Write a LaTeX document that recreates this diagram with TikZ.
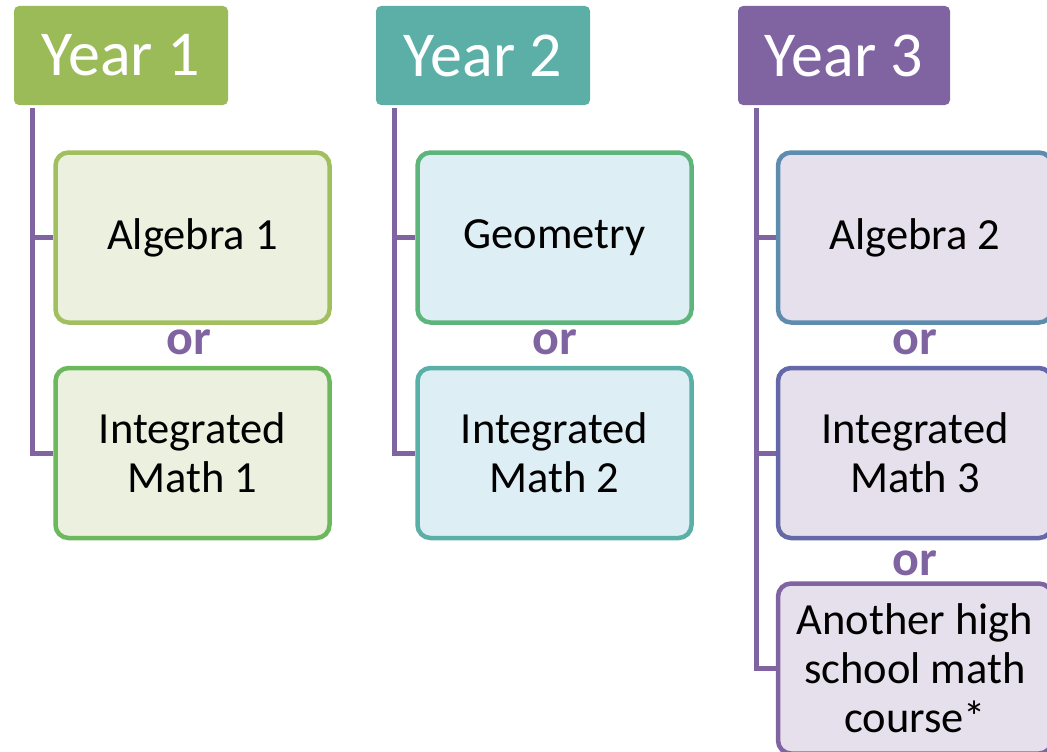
\documentclass[tikz,border=0pt]{standalone}
\usepackage{fontspec}
\setmainfont{Carlito}
\begin{document}
\begin{tikzpicture}[x=1pt,y=-1pt,
  header/.style={rounded corners=5pt, minimum width=214pt, minimum height=99pt, inner sep=0pt,
    text=white, font=\fontsize{64}{72}\selectfont},
  course/.style={rounded corners=13pt, line width=4.5pt, minimum width=274pt, minimum height=170pt,
    inner sep=0pt, align=center, text=black, font=\fontsize{44.5}{49}\selectfont},
  orlabel/.style={inner sep=0pt, text=purp, font=\bfseries\fontsize{50}{56}\selectfont},
  conn/.style={draw=purp, line width=5pt}]
\definecolor{purp}{HTML}{8064A2}
\definecolor{gA}{HTML}{9BBB59}
\definecolor{tB}{HTML}{5BAFA6}
\definecolor{fillA}{HTML}{EBF1DE}
\definecolor{fillB}{HTML}{DEEEF5}
\definecolor{fillC}{HTML}{E6E0EC}
\definecolor{bA1}{HTML}{A2BF60}
\definecolor{bA2}{HTML}{6BB85D}
\definecolor{bB1}{HTML}{5DB57C}
\definecolor{bB2}{HTML}{5AAFA7}
\definecolor{bC1}{HTML}{5E8CAE}
\definecolor{bC2}{HTML}{6467A8}
\definecolor{bC3}{HTML}{8064A2}
\useasboundingbox (0,0) rectangle (1047,752);

% headers
\node[header, fill=gA] (y1) at (121,55.5) {Year 1};
\node[header, fill=tB] (y2) at (483,55.5) {Year 2};
\node[header, fill=purp, minimum width=212pt] (y3) at (844,55.5) {Year 3};

% trunk coordinates
\coordinate (t1) at ([xshift=19pt, yshift=-3pt]y1.south west);
\coordinate (t2) at ([xshift=19pt, yshift=-3pt]y2.south west);
\coordinate (t3) at ([xshift=19pt, yshift=-3pt]y3.south west);

% courses
\node[course, draw=bA1, fill=fillA] (a1) at (192.5,237.5) {Algebra 1};
\node[course, draw=bA2, fill=fillA] (i1) at (192.5,453) {Integrated\\Math 1};
\node[course, draw=bB1, fill=fillB] (g2) at (554.5,237.5) {Geometry};
\node[course, draw=bB2, fill=fillB] (i2) at (554.5,453) {Integrated\\Math 2};
\node[course, draw=bC1, fill=fillC] (a3) at (915,237.5) {Algebra 2};
\node[course, draw=bC2, fill=fillC] (i3) at (915,453) {Integrated\\Math 3};
\node[course, draw=bC3, fill=fillC] (o3) at (915,668.5) {Another high\\school math\\course*};

% or labels
\node[orlabel] (or1) at (189,342) {or};
\node[orlabel] (or2) at (555,342) {or};
\node[orlabel] (or3) at (915,342) {or};
\node[orlabel] (or4) at (915,563) {or};

% connectors
\draw[conn, line cap=butt] (t1) |- (i1.west);
\draw[conn] (t1 |- a1.west) -- (a1.west);
\draw[conn, line cap=butt] (t2) |- (i2.west);
\draw[conn] (t2 |- g2.west) -- (g2.west);
\draw[conn, line cap=butt] (t3) |- (o3.west);
\draw[conn] (t3 |- a3.west) -- (a3.west);
\draw[conn] (t3 |- i3.west) -- (i3.west);
\end{tikzpicture}
\end{document}
